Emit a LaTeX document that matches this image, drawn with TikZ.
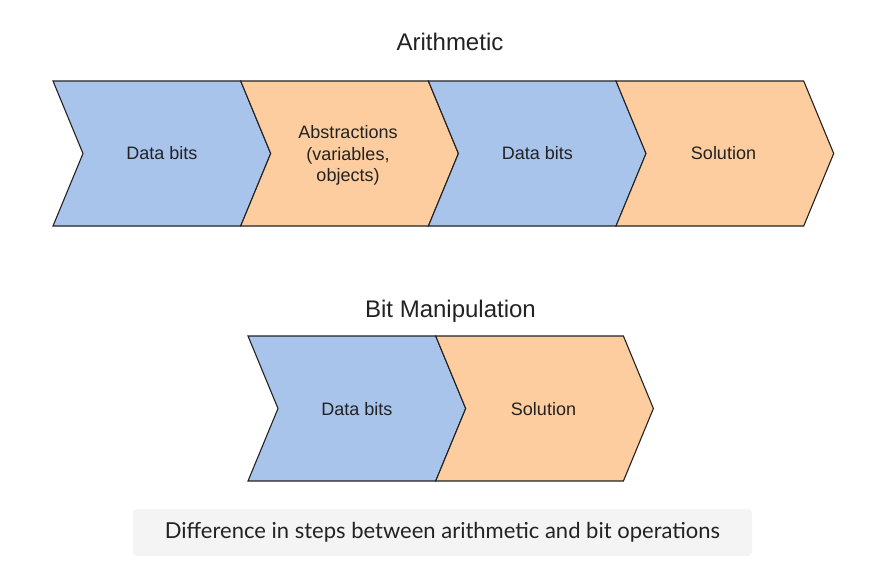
\documentclass[tikz,border=0pt]{standalone}
\usepackage{fontspec}
\setmainfont{Liberation Sans}
\newfontfamily\captionfont{Lato}
\definecolor{stepblue}{HTML}{A9C4EB}
\definecolor{steporange}{HTML}{FDCD9F}
\definecolor{capgray}{HTML}{F4F4F4}
\definecolor{edgegray}{HTML}{222222}
\tikzset{
  bluestep/.style={draw=edgegray, line width=1.1pt, fill=stepblue, line join=miter},
  orangestep/.style={draw=edgegray, line width=1.1pt, fill=steporange, line join=miter},
  steplabel/.style={font=\fontsize{18}{21.7}\selectfont, align=center, text=edgegray},
  headline/.style={font=\fontsize{24}{28}\selectfont, anchor=base, text=edgegray},
  captionbox/.style={fill=capgray, rounded corners=4pt, minimum width=619pt, minimum height=47pt,
    inner sep=0pt, text=edgegray, font=\captionfont\fontsize{22}{26}\selectfont}
}
\begin{document}
\begin{tikzpicture}[x=1pt,y=-1pt]
\useasboundingbox (0,0) rectangle (880,571);
% Set the chevron dimensions
\def\stepw{187.7} % flat top of each chevron
\def\tip{30}      % depth of the point
\def\half{72.5}   % half of the height

% Arithmetic: four steps
\node[headline] (arith) at (450,50) {Arithmetic};
\draw[bluestep] (53,81) -- ++(\stepw,0) -- ++(\tip,\half) -- ++(-\tip,\half) -- ++(-\stepw,0) -- ++(\tip,-\half) -- cycle;
\node[steplabel] (arithdata) at (161.9,153) {Data bits};
\draw[orangestep] (240.7,81) -- ++(\stepw,0) -- ++(\tip,\half) -- ++(-\tip,\half) -- ++(-\stepw,0) -- ++(\tip,-\half) -- cycle;
\node[steplabel] (arithabstr) at (348,155.5) {Abstractions\\(variables,\\objects)};
\draw[bluestep] (428.4,81) -- ++(\stepw,0) -- ++(\tip,\half) -- ++(-\tip,\half) -- ++(-\stepw,0) -- ++(\tip,-\half) -- cycle;
\node[steplabel] (arithbits) at (537.3,153) {Data bits};
\draw[orangestep] (616,81) -- ++(\stepw,0) -- ++(\tip,\half) -- ++(-\tip,\half) -- ++(-\stepw,0) -- ++(\tip,-\half) -- cycle;
\node[steplabel] (arithsol) at (723.5,153) {Solution};

% Bit Manipulation: two steps
\node[headline] (bitman) at (450.5,317) {Bit Manipulation};
\draw[bluestep] (248,336) -- ++(\stepw,0) -- ++(\tip,\half) -- ++(-\tip,\half) -- ++(-\stepw,0) -- ++(\tip,-\half) -- cycle;
\node[steplabel] (bitdata) at (356.9,409) {Data bits};
\draw[orangestep] (435.7,336) -- ++(\stepw,0) -- ++(\tip,\half) -- ++(-\tip,\half) -- ++(-\stepw,0) -- ++(\tip,-\half) -- cycle;
\node[steplabel] (bitsol) at (543.5,409) {Solution};

% caption
\node[captionbox] (caption) at (442.5,532.5) {Difference in steps between arithmetic and bit operations};
\end{tikzpicture}
\end{document}
